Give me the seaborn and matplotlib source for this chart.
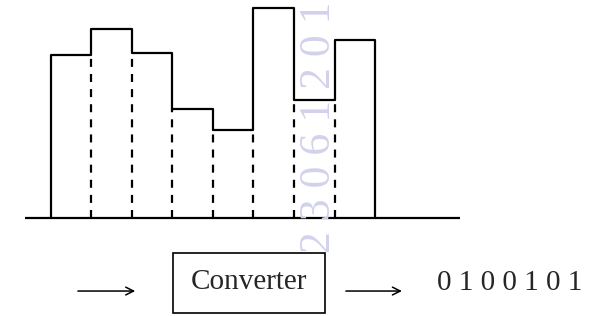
import numpy as np
import pandas as pd
import seaborn as sns
import matplotlib
matplotlib.use("Agg")
from matplotlib import pyplot as plt

# sampled signal levels, one per time slot
levels = [7.75, 9.0, 7.85, 5.2, 4.2, 10.0, 5.6, 8.5]
slot_edges = np.arange(len(levels) + 1)
slot_mid = slot_edges[:-1] + 0.5

box_label = "Converter"
bits = "0 1 0 0 1 0 1"
stamp = "2 3 0 6 1 2 0 1"

df = pd.DataFrame({"t": slot_mid, "level": levels})

sns.set_theme(style="white")
plt.rcParams["font.family"] = ["Liberation Serif", "DejaVu Serif"]

fig = plt.figure(figsize=(6.16, 3.16), dpi=100)
ax = fig.add_axes([0, 0, 1, 1])

# faint scanned stamp behind everything
fig.text(0.518, 0.2, stamp, rotation=90, ha="center", va="bottom",
         fontsize=31.5, color="#d2d2ec", zorder=0)

# step outline of the signal
sns.histplot(data=df, x="t", weights="level", binwidth=1, binrange=(0, len(levels)),
             element="step", fill=False, color="black", linewidth=1.6, ax=ax)

# dashed slot dividers
lv = np.array(levels)
ax.vlines(slot_edges[1:-1], 0, np.minimum(lv[:-1], lv[1:]), colors="black",
          linewidth=1.6, linestyles=(0, (3.6, 3.2)))
# end verticals
ax.vlines([slot_edges[0], slot_edges[-1]], 0, [lv[0], lv[-1]], colors="black", linewidth=1.6)

# time axis line
ax.hlines(0, -0.634, 10.1, colors="black", linewidth=1.6)

ax.set_xlim(-1.25, 13.94)
ax.set_ylim(-4.667, 10.381)
ax.axis("off")

# converter block
box = plt.Rectangle((0.281, 0.0095), 0.247, 0.19, transform=fig.transFigure,
                    fill=False, edgecolor="black", linewidth=1.2)
fig.patches.append(box)
fig.text(0.404, 0.108, box_label, ha="center", va="center", fontsize=21)

for x0, x1 in [(0.122, 0.224), (0.557, 0.657)]:
    ax.annotate("", xy=(x1, 0.079), xytext=(x0, 0.079), xycoords="figure fraction",
                arrowprops=dict(arrowstyle="->", color="black", lw=1.1,
                                mutation_scale=14))

fig.text(0.828, 0.106, bits, ha="center", va="center", fontsize=21)

fig.savefig("out.png", dpi=100)
